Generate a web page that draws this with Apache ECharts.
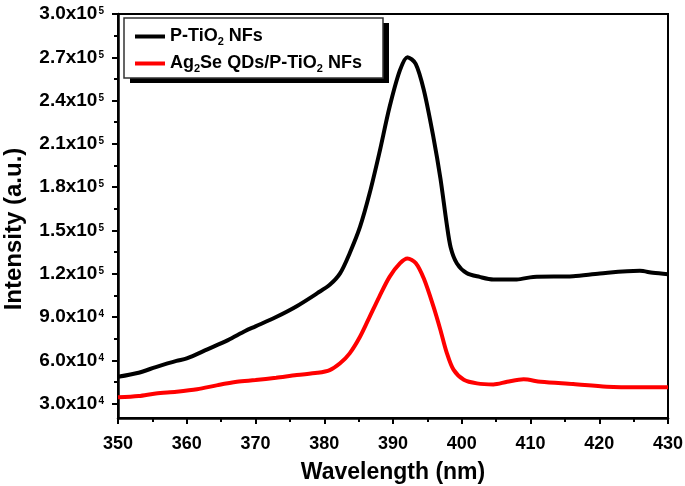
<!DOCTYPE html>
<html>
<head>
<meta charset="utf-8">
<script src="https://cdn.jsdelivr.net/npm/echarts@6/dist/echarts.min.js"></script>
<style>
  html, body { margin: 0; padding: 0; background: #fff; }
  #chart { width: 685px; height: 486px; }
</style>
</head>
<body>
<div id="chart"></div>
<script>
// ---- Data ----
var seriesNames = ['P-TiO2 NFs', 'Ag2Se QDs/P-TiO2 NFs'];

var wlTiO2 = [350, 353, 355.5, 358.5, 360, 363, 366, 368.5, 370, 373, 376, 379, 380.8, 382.3, 383.7, 385.2, 386.6, 388, 389.5, 391, 392.1, 393.3, 394.5, 395.9, 396.9, 397.8, 398.4, 399.3, 400.7, 402.6, 404.6, 408, 410.4, 416.2, 420.1, 425.9, 427.8, 430];
var intTiO2 = [48600, 51400, 55300, 59600, 61300, 67600, 74000, 80300, 83500, 90000, 97500, 106500, 112300, 120200, 134200, 152400, 175700, 203400, 235500, 260900, 270100, 265500, 247000, 214000, 186000, 155000, 138000, 127100, 120500, 117800, 116000, 116000, 117800, 118300, 120200, 122000, 120600, 119700];

var wlAg = [350, 353, 355.5, 358.5, 361.5, 364.5, 367.3, 370, 373, 376, 379, 380.8, 382.3, 383.7, 385.2, 386.6, 388, 389.5, 391, 392.1, 393.3, 394.5, 395.9, 396.9, 397.8, 398.8, 400.3, 402.2, 404.6, 406.6, 409, 411.5, 416.2, 421.1, 425.9, 430];
var intAg = [34300, 35200, 37000, 38200, 39900, 42800, 45100, 46300, 47900, 49800, 51300, 53200, 57900, 64800, 76300, 90100, 104000, 117800, 127100, 130500, 127500, 116500, 97000, 81000, 65500, 53500, 46500, 44000, 43300, 45100, 46800, 45100, 43500, 41700, 41300, 41300];

var yTickValues = [30000, 60000, 90000, 120000, 150000, 180000, 210000, 240000, 270000, 300000];
var yMinorTickValues = [45000, 75000, 105000, 135000, 165000, 195000, 225000, 255000, 285000];
var xTickValues = [350, 360, 370, 380, 390, 400, 410, 420, 430];

// ---- helpers ----
function pairs(xs, ys) { return xs.map(function (x, i) { return [x, ys[i]]; }); }
function sciLabel(v) {
  var e = Math.floor(Math.log10(v) + 1e-9);
  var m = (v / Math.pow(10, e)).toFixed(1);
  return '{m|' + m + 'x10}{s|' + e + '}';
}
function subName(n) { return n.replace(/([A-Za-z])2/g, '$1{sub|2}'); }

var FONT = 'Liberation Sans, Arial, Helvetica, sans-serif';

var chart = echarts.init(document.getElementById('chart'), null, { renderer: 'canvas' });
var option = {
  backgroundColor: '#ffffff',
  animation: false,
  textStyle: { fontFamily: FONT },
  grid: {
    left: 118, right: 17, top: 14, bottom: 68,
    containLabel: false,
    outerBoundsMode: 'none',
    show: true, borderColor: '#000', borderWidth: 2, backgroundColor: 'transparent'
  },
  graphic: [{
    // drop shadow of the legend frame
    type: 'rect', left: 130, top: 23, z: 1, silent: true,
    shape: { width: 259, height: 60 },
    style: { fill: '#000' }
  }],
  legend: {
    orient: 'vertical',
    left: 124, top: 18, z: 10,
    padding: [8, 8, 4, 11],
    itemGap: 6,
    itemWidth: 30, itemHeight: 4,
    icon: 'rect',
    backgroundColor: '#fff',
    borderColor: '#333', borderWidth: 1.5, borderRadius: 0,
    data: seriesNames,
    formatter: subName,
    textStyle: {
      fontFamily: FONT, fontSize: 18, fontWeight: 'bold', color: '#000', lineHeight: 21,
      width: 205, overflow: 'none',
      rich: {
        sub: { fontFamily: FONT, fontSize: 11, fontWeight: 'bold', color: '#000', verticalAlign: 'bottom', lineHeight: 14 }
      }
    }
  },
  xAxis: {
    type: 'value', min: 350, max: 430, interval: 10,
    name: 'Wavelength (nm)', nameLocation: 'middle', nameGap: 43,
    nameTextStyle: { fontFamily: FONT, fontSize: 23, fontWeight: 'bold', color: '#000' },
    axisLine: { show: true, onZero: false, lineStyle: { color: '#000', width: 2.5 } },
    axisTick: { show: true, inside: false, length: 6, lineStyle: { color: '#000', width: 2 } },
    minorTick: { show: true, splitNumber: 2, length: 4, lineStyle: { color: '#000', width: 2 } },
    axisLabel: {
      margin: 17, fontFamily: FONT, fontSize: 18, fontWeight: 'bold', color: '#000',
      customValues: xTickValues
    },
    splitLine: { show: false }, minorSplitLine: { show: false }
  },
  yAxis: [{
    type: 'value', min: 20000, max: 300000,
    name: 'Intensity (a.u.)', nameLocation: 'middle', nameGap: 92,
    nameTextStyle: { fontFamily: FONT, fontSize: 24, fontWeight: 'bold', color: '#000', padding: [0, 26, 0, 0] },
    axisLine: { show: true, onZero: false, lineStyle: { color: '#000', width: 2.5 } },
    axisTick: { show: true, inside: false, length: 6, lineStyle: { color: '#000', width: 2 }, customValues: yTickValues },
    axisLabel: {
      margin: 14, color: '#000', customValues: yTickValues,
      formatter: sciLabel,
      rich: {
        m: { fontFamily: FONT, fontSize: 19, fontWeight: 'bold', color: '#000', lineHeight: 21 },
        s: { fontFamily: FONT, fontSize: 10, fontWeight: 'bold', color: '#000', verticalAlign: 'top', lineHeight: 12, padding: [3, 0, 0, 1] }
      }
    },
    splitLine: { show: false }
  }, {
    type: 'value', min: 20000, max: 300000, position: 'left',
    axisLine: { show: false },
    axisTick: { show: true, inside: false, length: 4, lineStyle: { color: '#000', width: 2 }, customValues: yMinorTickValues },
    axisLabel: { show: false },
    splitLine: { show: false }
  }],
  series: [{
    name: seriesNames[0], type: 'line', yAxisIndex: 0,
    data: pairs(wlTiO2, intTiO2),
    smooth: 0.3, showSymbol: false, symbol: 'none',
    color: '#000000',
    lineStyle: { color: '#000000', width: 4 }
  }, {
    name: seriesNames[1], type: 'line', yAxisIndex: 0,
    data: pairs(wlAg, intAg),
    smooth: 0.3, showSymbol: false, symbol: 'none',
    color: '#ff0000',
    lineStyle: { color: '#ff0000', width: 4 }
  }]
};
chart.setOption(option);
</script>
</body>
</html>
